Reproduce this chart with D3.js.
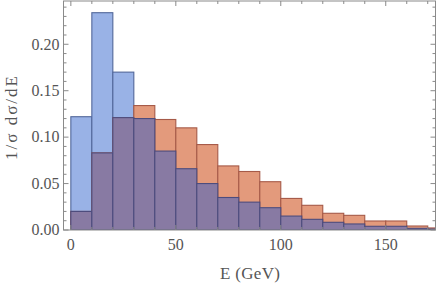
<!DOCTYPE html>
<meta charset="utf-8">
<title>Energy distribution</title>
<script src="https://d3js.org/d3.v7.min.js"></script>
<style>
body { margin: 0; background: #fff; }
text { font-family: "Liberation Serif", serif; fill: #555; }
</style>
<body>
<div id="chart"></div>
<script>
// bin left edges (GeV), width 10
var binStart = [0, 10, 20, 30, 40, 50, 60, 70, 80, 90, 100, 110, 120, 130, 140, 150, 160, 170];
var blueVals = [0.122, 0.234, 0.170, 0.120, 0.085, 0.066, 0.050, 0.035, 0.030, 0.024, 0.015, 0.0115, 0.0083, 0.0065, 0.004, 0.004, 0.0018, 0.001];
var orangeVals = [0.020, 0.083, 0.121, 0.134, 0.119, 0.110, 0.092, 0.069, 0.063, 0.052, 0.034, 0.0266, 0.018, 0.0158, 0.0097, 0.0097, 0.0043, 0.0022];
var binWidth = 10;
var yTicks = [0, 0.05, 0.10, 0.15, 0.20];
var xTicks = [0, 50, 100, 150];

var W = 436, H = 287;
var frame = {left: 63.5, right: 435.5, top: 1, bottom: 230};

var svg = d3.select("#chart").append("svg")
  .attr("width", W).attr("height", H);

var x = d3.scaleLinear().domain([-3.5, 173.7]).range([frame.left, frame.right]);
var y = d3.scaleLinear().domain([0, 0.2466]).range([frame.bottom, frame.top]);

var data = binStart.map(function(s, i) {
  return {x0: s, x1: s + binWidth, b: blueVals[i], o: orangeVals[i]};
});

var plot = svg.append("g").attr("clip-path", "url(#clip)");
svg.append("clipPath").attr("id", "clip").append("rect")
  .attr("x", frame.left).attr("y", frame.top)
  .attr("width", frame.right - frame.left).attr("height", frame.bottom - frame.top);

function bars(cls, val, fill, stroke) {
  plot.append("g").selectAll("rect." + cls)
    .data(data).enter().append("rect")
      .attr("class", cls)
      .attr("x", function(d) { return x(d.x0); })
      .attr("width", function(d) { return x(d.x1) - x(d.x0); })
      .attr("y", function(d) { return y(val(d)); })
      .attr("height", function(d) { return y(0) - y(val(d)); })
      .style("fill", fill)
      .style("stroke", stroke)
      .style("stroke-width", 1.1);
}

bars("blue", function(d) { return d.b; }, "#99b2e6", "#52679a");
bars("orange", function(d) { return d.o; }, "#e39a7c", "#a65a48");
bars("overlap", function(d) { return Math.min(d.b, d.o); }, "#887aa3", "#4c4c7e");

// frame with inward ticks
var axisColor = "#8a8a8a";
svg.append("rect")
  .attr("x", frame.left).attr("y", frame.top)
  .attr("width", frame.right - frame.left).attr("height", frame.bottom - frame.top)
  .style("fill", "none").style("stroke", axisColor).style("stroke-width", 1);

var xMinor = d3.range(0, 171, 10);
var yMinor = d3.range(0, 0.2465, 0.01);

var ticks = svg.append("g").style("stroke", axisColor).style("stroke-width", 1);
xMinor.forEach(function(v) {
  var len = (v % 50 === 0) ? 5 : 3;
  ticks.append("line").attr("x1", x(v)).attr("x2", x(v))
    .attr("y1", frame.bottom).attr("y2", frame.bottom - len);
  ticks.append("line").attr("x1", x(v)).attr("x2", x(v))
    .attr("y1", frame.top).attr("y2", frame.top + len);
});
yMinor.forEach(function(v, i) {
  var len = (i % 5 === 0) ? 5 : 3;
  ticks.append("line").attr("y1", y(v)).attr("y2", y(v))
    .attr("x1", frame.left).attr("x2", frame.left + len);
  ticks.append("line").attr("y1", y(v)).attr("y2", y(v))
    .attr("x1", frame.right).attr("x2", frame.right - len);
});

// tick labels
svg.append("g").selectAll("text")
  .data(yTicks).enter().append("text")
    .attr("x", frame.left - 4)
    .attr("y", function(d) { return y(d); })
    .attr("dy", "0.33em")
    .attr("text-anchor", "end")
    .style("font-size", "16px")
    .text(function(d) { return d3.format(".2f")(d); });

svg.append("g").selectAll("text")
  .data(xTicks).enter().append("text")
    .attr("x", function(d) { return x(d); })
    .attr("y", 250)
    .attr("text-anchor", "middle")
    .style("font-size", "16px")
    .text(function(d) { return d; });

// axis titles
svg.append("text")
  .attr("x", 250)
  .attr("y", 279)
  .attr("text-anchor", "middle")
  .attr("textLength", 60)
  .attr("lengthAdjust", "spacing")
  .style("font-size", "17px")
  .text("E (GeV)");

svg.append("text")
  .attr("transform", "translate(17,118) rotate(-90)")
  .attr("text-anchor", "middle")
  .attr("textLength", 84)
  .attr("lengthAdjust", "spacing")
  .style("font-size", "17px")
  .text("1/σ dσ/dE");
</script>
</body>
